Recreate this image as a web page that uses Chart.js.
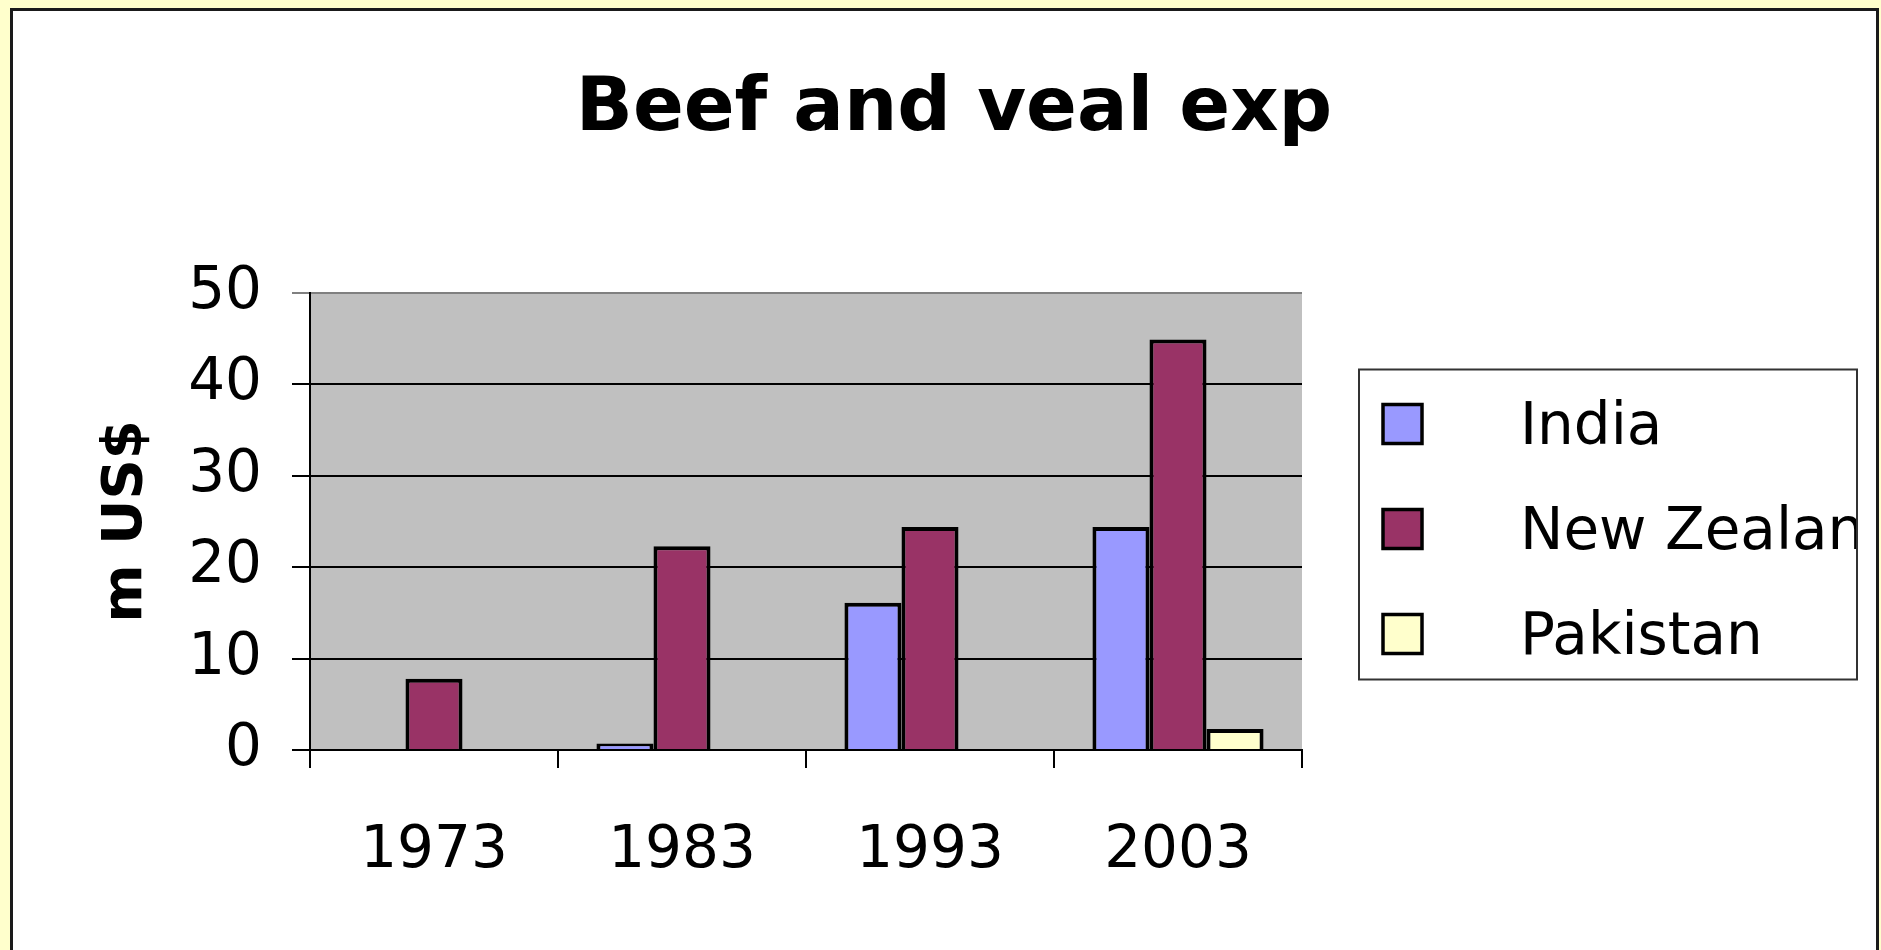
<!DOCTYPE html>
<html>
<head>
<meta charset="utf-8">
<script src="https://cdn.jsdelivr.net/npm/chart.js@4.4.1/dist/chart.umd.min.js"></script>
<style>
    html, body {
        margin: 0;
        padding: 0;
        width: 1881px;
        height: 950px;
        overflow: hidden;
        background: #ffffcc;
    }
    .panel {
        position: absolute;
        left: 10px;
        top: 8px;
        width: 1869px;
        height: 1000px;
        box-sizing: border-box;
        border: 3px solid #1a1a1a;
        background: #ffffff;
    }
    #chart {
        position: absolute;
        left: 0;
        top: 0;
    }
</style>
</head>
<body>
<div class="panel"></div>
<canvas id="chart" width="1881" height="950"></canvas>
<script>
// ================= DATA =================

const years = ["1973", "1983", "1993", "2003"];

const seriesNames = ["India", "New Zealand", "Pakistan"];

const india = [0, 0.7, 16.1, 24.4];
const newZealand = [7.8, 22.3, 24.4, 44.9];
const pakistan = [0, 0, 0, 2.3];

const seriesColors = ["#9999ff", "#993366", "#ffffcc"];

const yMin = 0;
const yMax = 50;
const yStep = 10;

const FONT = "'DejaVu Sans', sans-serif";

// ================= PLUGINS =================

// grey plot background
const plotBackground = {
    id: "plotBackground",
    beforeDraw(chart) {
        const { ctx, chartArea } = chart;
        ctx.save();
        ctx.fillStyle = "#c0c0c0";
        ctx.fillRect(chartArea.left, chartArea.top,
            chartArea.right - chartArea.left, chartArea.bottom - chartArea.top);
        ctx.restore();
    }
};

// boxed legend on the right, text clipped by the box
const boxLegend = {
    id: "boxLegend",
    afterDraw(chart) {
        const { ctx, chartArea } = chart;
        const boxW = 498;
        const boxH = 310;
        const left = chartArea.right + 57;
        const top = (chartArea.top + chartArea.bottom) / 2 - boxH / 2 + 3;

        ctx.save();
        ctx.fillStyle = "#ffffff";
        ctx.fillRect(left, top, boxW, boxH);
        ctx.lineWidth = 2;
        ctx.strokeStyle = "#333";
        ctx.strokeRect(left, top, boxW, boxH);

        ctx.beginPath();
        ctx.rect(left, top, boxW - 1, boxH);
        ctx.clip();

        ctx.font = "58px " + FONT;
        ctx.textBaseline = "middle";

        chart.data.datasets.forEach((ds, i) => {
            const cy = top + 55 + i * 105;
            ctx.fillStyle = ds.backgroundColor;
            ctx.fillRect(left + 24, cy - 20, 39, 39);
            ctx.lineWidth = 3.5;
            ctx.strokeStyle = "#000";
            ctx.strokeRect(left + 24, cy - 20, 39, 39);
            ctx.fillStyle = "#000";
            ctx.fillText(ds.label, left + 161, cy + 4);
        });

        ctx.restore();
    }
};

// ================= CHART =================

new Chart(document.getElementById("chart"), {

    type: "bar",

    data: {
        labels: years,
        datasets: [
            { label: seriesNames[0], data: india, backgroundColor: seriesColors[0] },
            { label: seriesNames[1], data: newZealand, backgroundColor: seriesColors[1] },
            { label: seriesNames[2], data: pakistan, backgroundColor: seriesColors[2] }
        ]
    },

    options: {
        responsive: false,
        animation: false,
        devicePixelRatio: 1,

        layout: {
            padding: { left: 27, right: 0, top: 0, bottom: 0 }
        },

        datasets: {
            bar: {
                borderColor: "#000",
                borderWidth: 4,
                borderSkipped: "bottom",
                barPercentage: 1,
                categoryPercentage: 0.69
            }
        },

        plugins: {
            legend: { display: false },
            tooltip: { enabled: false },
            title: {
                display: true,
                text: "Beef and veal exp",
                color: "#000",
                font: { family: FONT, size: 75, weight: "bold", lineHeight: 1.2 },
                padding: { top: 66, bottom: 137 }
            }
        },

        scales: {
            x: {
                grid: {
                    display: true,
                    drawOnChartArea: false,
                    drawTicks: true,
                    tickLength: 18,
                    color: "#000",
                    lineWidth: 2,
                    offset: true
                },
                border: { display: true, color: "#000", width: 2 },
                ticks: {
                    color: "#000",
                    padding: 49,
                    font: { family: FONT, size: 58, lineHeight: 1.2 }
                },
                afterFit(scale) {
                    scale.height = 200;
                }
            },
            y: {
                min: yMin,
                max: yMax,
                ticks: {
                    stepSize: yStep,
                    color: "#000",
                    padding: 30,
                    font: { family: FONT, size: 58, lineHeight: 1.2 }
                },
                grid: {
                    color: ctx => ctx.tick && ctx.tick.value === yMax ? "#808080" : "#000",
                    lineWidth: 2,
                    tickLength: 18
                },
                border: { display: true, color: "#000", width: 2 },
                title: {
                    display: true,
                    text: "m US$",
                    color: "#000",
                    font: { family: FONT, size: 56, weight: "bold", lineHeight: 1.2 },
                    padding: { top: 66, bottom: 0 }
                },
                afterFit(scale) {
                    scale.width = 283;
                }
            },
            // empty axis that keeps room for the boxed legend
            spacer: {
                type: "linear",
                position: "right",
                display: true,
                grid: { display: false },
                border: { display: false },
                ticks: { display: false },
                afterFit(scale) {
                    scale.width = 579;
                }
            }
        }
    },

    plugins: [plotBackground, boxLegend]

});
</script>
</body>
</html>
